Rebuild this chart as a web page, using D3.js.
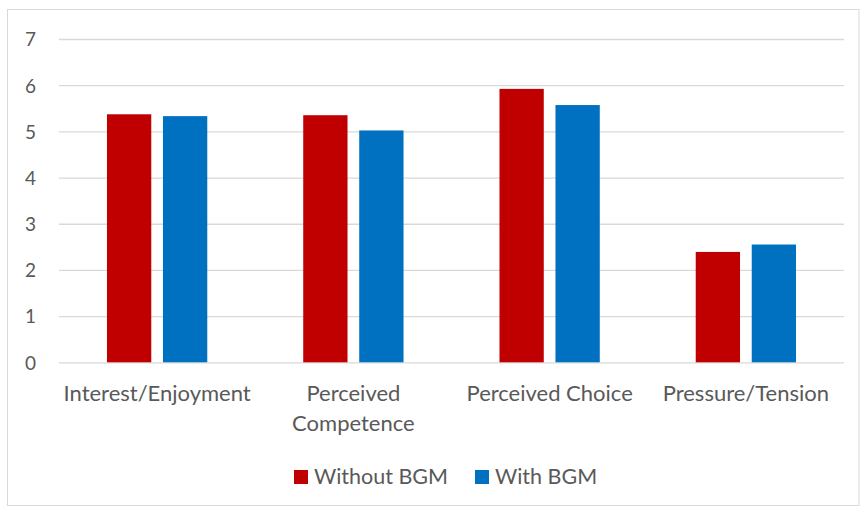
<!DOCTYPE html>
<html>
<head>
<meta charset="utf-8">
<script src="https://cdn.jsdelivr.net/npm/d3@7"></script>
<style>
  html, body { margin: 0; padding: 0; background: #fff; }
  svg { display: block; }
  text { font-family: Lato, "Open Sans", sans-serif; fill: #595959; }
</style>
</head>
<body>
<svg id="chart" width="861" height="508"></svg>
<script>
// Intrinsic motivation subscales, mean scores
const categories = [["Interest/Enjoyment"], ["Perceived", "Competence"], ["Perceived Choice"], ["Pressure/Tension"]];
const seriesNames = ["Without BGM", "With BGM"];
const withoutBGM = [5.37, 5.35, 5.92, 2.39];
const withBGM = [5.33, 5.02, 5.57, 2.55];
const yTicks = [0, 1, 2, 3, 4, 5, 6, 7];
const colors = ["#c00000", "#0070c0"];

const svg = d3.select("#chart");
const W = 861, H = 508;

// outer frame
svg.append("rect")
  .attr("x", 7.5).attr("y", 9.5)
  .attr("width", W - 7.5 - 2).attr("height", H - 9.5 - 2.5)
  .attr("fill", "#fff").attr("stroke", "#d9d9d9").attr("stroke-width", 1);

const plot = { left: 59, right: 844, top: 39, bottom: 362.3 };

const keys = categories.map(c => c.join(" "));
const x = d3.scaleBand().domain(keys).range([plot.left, plot.right]).paddingInner(0).paddingOuter(0);
const y = d3.scaleLinear().domain([0, 7]).range([plot.bottom, plot.top]);
const barW = 44.3, barGap = 11.7;
const xs = d3.scaleBand().domain(seriesNames)
  .range([x.bandwidth() / 2 - barW - barGap / 2, x.bandwidth() / 2 + barW + barGap / 2])
  .paddingInner(barGap / (barW + barGap)).paddingOuter(0);

// gridlines and value labels
const yAxis = d3.axisLeft(y).tickValues(yTicks).tickSize(-(plot.right - plot.left)).tickFormat(d3.format("d"));
const gy = svg.append("g").attr("transform", `translate(${plot.left},0)`).call(yAxis);
gy.select(".domain").remove();
gy.selectAll(".tick line").attr("stroke", "#d9d9d9").attr("stroke-width", 1.3);
gy.selectAll(".tick text")
  .attr("x", -23).attr("dy", "0.36em")
  .style("font-size", "19px").attr("fill", "#595959")
  .attr("font-family", "Lato, 'Open Sans', sans-serif");

// bars
const rows = keys.map((k, i) => ({ key: k, vals: [withoutBGM[i], withBGM[i]] }));
const groups = svg.append("g").selectAll("g").data(rows).join("g")
  .attr("transform", d => `translate(${x(d.key)},0)`);
groups.selectAll("rect")
  .data(d => d.vals.map((v, j) => ({ name: seriesNames[j], v, j })))
  .join("rect")
  .attr("x", d => xs(d.name))
  .attr("width", xs.bandwidth())
  .attr("y", d => y(d.v))
  .attr("height", d => y(0) - y(d.v))
  .attr("fill", d => colors[d.j]);

// category labels
const xAxis = d3.axisBottom(x).tickSize(0).tickFormat("");
const gx = svg.append("g").attr("transform", `translate(0,${plot.bottom})`).call(xAxis);
gx.select(".domain").remove();
gx.selectAll(".tick").each(function(d, i) {
  const t = d3.select(this).append("text")
    .attr("text-anchor", "middle")
    .style("font-size", "22px")
    .attr("fill", "#595959");
  categories[i].forEach((line, k) => {
    t.append("tspan").attr("x", 0).attr("y", 39 + k * 30).text(line);
  });
});

// legend
const legend = svg.append("g").attr("transform", "translate(294,470)");
const items = [{ name: seriesNames[0], dx: 0 }, { name: seriesNames[1], dx: 181 }];
items.forEach((it, i) => {
  const g = legend.append("g").attr("transform", `translate(${it.dx},0)`);
  g.append("rect").attr("width", 14).attr("height", 14).attr("fill", colors[i]);
  g.append("text").attr("x", 20).attr("y", 14).style("font-size", "21.5px").text(it.name);
});
</script>
</body>
</html>
